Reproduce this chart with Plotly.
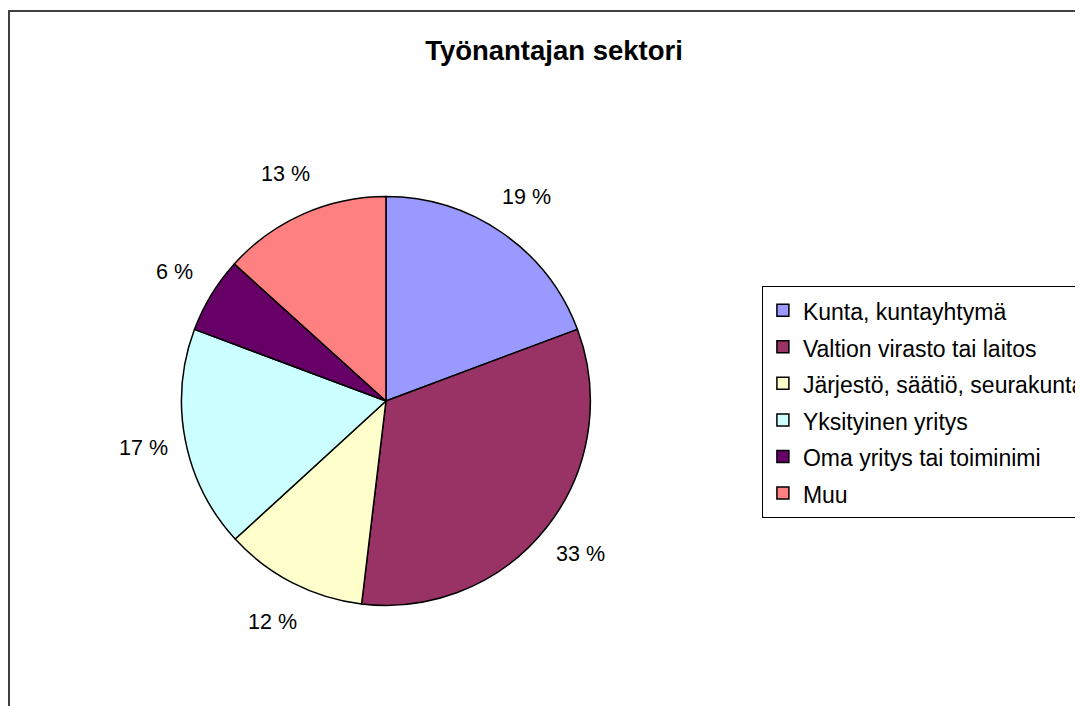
import math
import plotly.graph_objects as go

categories = [
    "Kunta, kuntayhtymä",
    "Valtion virasto tai laitos",
    "Järjestö, säätiö, seurakunta",
    "Yksityinen yritys",
    "Oma yritys tai toiminimi",
    "Muu",
]
shares = [19.3, 32.6, 11.3, 17.5, 6.0, 13.3]
pct_labels = ["19 %", "33 %", "12 %", "17 %", "6 %", "13 %"]
colors = ["#9999FF", "#993366", "#FFFFCC", "#CCFFFF", "#660066", "#FF8080"]

W, H = 1083, 706
OFF = 8  # page body margin in the browser
FONT = "Liberation Sans, Arial, sans-serif"

# pie geometry (pixels, in page coordinates)
cx, cy, r = 387 - OFF, 401 - OFF, 205
label_r = 248

legend_names = ['<span style="font-size:23px">%s</span>' % c for c in categories]

fig = go.Figure(
    go.Pie(
        labels=legend_names,
        values=shares,
        textinfo="none",
        sort=False,
        direction="clockwise",
        rotation=0,
        marker=dict(colors=colors, line=dict(color="black", width=1.5)),
        domain=dict(x=[(cx - r) / W, (cx + r) / W], y=[(H - cy - r) / H, (H - cy + r) / H]),
        hoverinfo="skip",
    )
)

# percentage labels placed radially outside each slice's mid-angle
total = sum(shares)
annotations = []
acc = 0.0
for v, t in zip(shares, pct_labels):
    mid = (acc + v / 2) / total * 2 * math.pi
    acc += v
    px = cx + label_r * math.sin(mid)
    py = cy - label_r * math.cos(mid)
    annotations.append(dict(
        text=t, x=px / W, y=1 - py / H, xref="paper", yref="paper",
        xanchor="center", yanchor="middle", showarrow=False,
        font=dict(family=FONT, size=21.5, color="black"),
    ))

fig.update_layout(
    width=W,
    height=H,
    margin=dict(l=0, r=0, t=0, b=0),
    paper_bgcolor="white",
    plot_bgcolor="white",
    font=dict(family=FONT, color="black"),
    title=dict(
        text="<b>Työnantajan sektori</b>",
        font=dict(family=FONT, size=27.5, color="black"),
        xref="container", yref="container",
        x=(554 - OFF) / W, y=1 - (50 - OFF) / H, xanchor="center", yanchor="middle",
    ),
    annotations=annotations,
    showlegend=True,
    legend=dict(
        x=(764 - OFF) / W, y=1 - (286 - OFF) / H, xanchor="left", yanchor="top",
        bordercolor="black", borderwidth=1,
        font=dict(family=FONT, size=25.8, color="black"),
        bgcolor="white",
        itemclick=False, itemdoubleclick=False,
    ),
    shapes=[
        dict(type="rect", xref="paper", yref="paper",
             x0=(9 - OFF) / W, x1=1.05, y0=-0.05, y1=1 - (11 - OFF) / H,
             line=dict(color="#404040", width=2), fillcolor="rgba(0,0,0,0)", layer="above"),
    ],
)

fig.write_html("out.html")
